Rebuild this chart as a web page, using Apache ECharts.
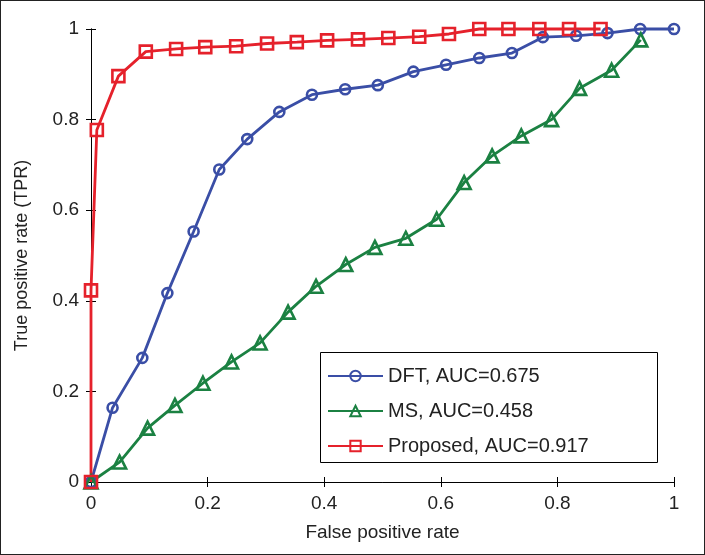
<!DOCTYPE html>
<html><head><meta charset="utf-8">
<script src="https://cdn.jsdelivr.net/npm/echarts@6/dist/echarts.min.js"></script>
<style>
html,body{margin:0;padding:0;background:#fff;}
#frame{position:absolute;left:0;top:0;width:705px;height:555px;box-sizing:border-box;border:1px solid #222;}
#c{position:absolute;left:0;top:0;width:705px;height:555px;}
</style></head>
<body><div id="c"></div><div id="frame"></div>
<script>
const seriesNames = ['DFT, AUC=0.675', 'MS, AUC=0.458', 'Proposed, AUC=0.917'];
const dftFPR = [0, 0.037, 0.088, 0.131, 0.176, 0.220, 0.268, 0.323, 0.379, 0.436, 0.492, 0.553, 0.609, 0.666, 0.722, 0.775, 0.832, 0.886, 0.942, 1.0];
const dftTPR = [0, 0.164, 0.274, 0.417, 0.553, 0.690, 0.757, 0.817, 0.855, 0.867, 0.876, 0.906, 0.921, 0.936, 0.947, 0.982, 0.985, 0.991, 1.0, 1.0];
const msFPR = [0, 0.049, 0.097, 0.144, 0.192, 0.241, 0.290, 0.338, 0.386, 0.437, 0.487, 0.540, 0.593, 0.640, 0.688, 0.738, 0.790, 0.838, 0.893, 0.943];
const msTPR = [0, 0.044, 0.119, 0.169, 0.218, 0.265, 0.307, 0.375, 0.432, 0.480, 0.518, 0.538, 0.580, 0.661, 0.720, 0.764, 0.800, 0.869, 0.909, 0.976];
const propFPR = [0, 0, 0.010, 0.047, 0.094, 0.146, 0.196, 0.249, 0.302, 0.353, 0.405, 0.458, 0.510, 0.563, 0.614, 0.666, 0.716, 0.769, 0.820, 0.874];
const propTPR = [0, 0.423, 0.777, 0.896, 0.950, 0.956, 0.960, 0.962, 0.968, 0.971, 0.975, 0.977, 0.980, 0.983, 0.989, 1.0, 1.0, 1.0, 1.0, 1.0];
const xTicks = [0, 0.2, 0.4, 0.6, 0.8, 1];
const yTicks = [0, 0.2, 0.4, 0.6, 0.8, 1];

const colors = ['#3a4ea6', '#1b8142', '#e5212b'];
const symbols = ['circle', 'triangle', 'rect'];
const sizes = [10, 13, 12];
const pairs = (xs, ys) => xs.map((x, i) => [x, ys[i]]);
const dataSets = [pairs(dftFPR, dftTPR), pairs(msFPR, msTPR), pairs(propFPR, propTPR)];

const font = 'Liberation Sans, Arial, sans-serif';
const chart = echarts.init(document.getElementById('c'), null, {renderer: 'canvas'});
const axisCommon = {
  type: 'value', min: 0, max: 1, interval: 0.2,
  axisLine: {show: true, lineStyle: {color: '#000', width: 1}},
  axisTick: {show: true, inside: true, length: 5, lineStyle: {color: '#000'}},
  splitLine: {show: false}
};
const fmtX = v => { const r = +v.toFixed(1); return xTicks.includes(r) ? String(r) : ''; };
const fmtY = v => { const r = +v.toFixed(1); return yTicks.includes(r) ? String(r) : ''; };
chart.setOption({
  animation: false,
  textStyle: {fontFamily: font},
  grid: {left: 91, right: 31, top: 29, bottom: 73, containLabel: false},
  graphic: [{
    type: 'rect', left: 320, top: 352, z: 1,
    shape: {width: 337, height: 110},
    style: {fill: '#fff', stroke: '#000', lineWidth: 1}
  }],
  legend: {
    orient: 'vertical', left: 327, top: 366,
    padding: 0, itemGap: 15, z: 10,
    itemWidth: 55, itemHeight: 13,
    textStyle: {fontSize: 20, color: '#222', fontFamily: font},
    data: seriesNames
  },
  xAxis: [
    Object.assign({}, axisCommon, {position: 'bottom',
      name: 'False positive rate', nameLocation: 'middle', nameGap: 41,
      nameTextStyle: {fontSize: 19, color: '#222'},
      axisLabel: {fontSize: 19, color: '#222', margin: 12, formatter: fmtX}}),
    Object.assign({}, axisCommon, {position: 'top', axisLabel: {show: false}})
  ],
  yAxis: [
    Object.assign({}, axisCommon, {position: 'left',
      name: 'True positive rate (TPR)', nameLocation: 'middle', nameGap: 60,
      nameTextStyle: {fontSize: 18, color: '#222'},
      axisLabel: {fontSize: 19, color: '#222', margin: 12, formatter: fmtY}}),
    Object.assign({}, axisCommon, {position: 'right', axisLabel: {show: false}})
  ],
  series: dataSets.map((d, i) => ({
    name: seriesNames[i], type: 'line', data: d, clip: false,
    symbol: symbols[i], symbolSize: sizes[i], showAllSymbol: true,
    lineStyle: {color: colors[i], width: 2.8},
    itemStyle: {color: 'rgba(255,255,255,0)', borderColor: colors[i], borderWidth: 2.6},
    emphasis: {disabled: true}
  }))
});
</script></body></html>
